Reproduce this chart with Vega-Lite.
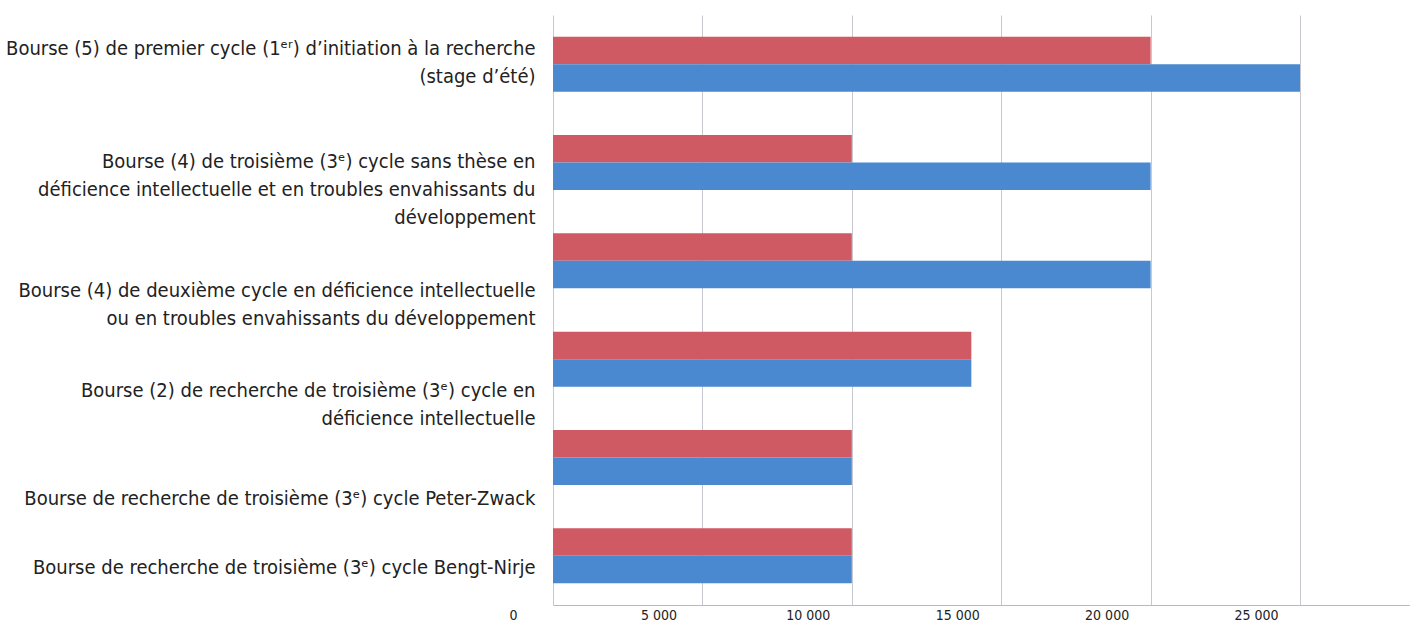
{
  "$schema": "https://vega.github.io/schema/vega-lite/v6.json",
  "autosize": "none",
  "padding": {"left": 553, "top": 15, "right": 0, "bottom": 20},
  "width": 857,
  "height": 590,
  "background": "white",
  "data": {
    "values": [
      {"bourse": "Bourse (5) de premier cycle (1ᵉʳ) d’initiation à la recherche|(stage d’été)", "serie": "Série 1", "montant": 20000},
      {"bourse": "Bourse (5) de premier cycle (1ᵉʳ) d’initiation à la recherche|(stage d’été)", "serie": "Série 2", "montant": 25000},
      {"bourse": "Bourse (4) de troisième (3ᵉ) cycle sans thèse en|déficience intellectuelle et en troubles envahissants du|développement", "serie": "Série 1", "montant": 10000},
      {"bourse": "Bourse (4) de troisième (3ᵉ) cycle sans thèse en|déficience intellectuelle et en troubles envahissants du|développement", "serie": "Série 2", "montant": 20000},
      {"bourse": "Bourse (4) de deuxième cycle en déficience intellectuelle|ou en troubles envahissants du développement", "serie": "Série 1", "montant": 10000},
      {"bourse": "Bourse (4) de deuxième cycle en déficience intellectuelle|ou en troubles envahissants du développement", "serie": "Série 2", "montant": 20000},
      {"bourse": "Bourse (2) de recherche de troisième (3ᵉ) cycle en|déficience intellectuelle", "serie": "Série 1", "montant": 14000},
      {"bourse": "Bourse (2) de recherche de troisième (3ᵉ) cycle en|déficience intellectuelle", "serie": "Série 2", "montant": 14000},
      {"bourse": "Bourse de recherche de troisième (3ᵉ) cycle Peter-Zwack", "serie": "Série 1", "montant": 10000},
      {"bourse": "Bourse de recherche de troisième (3ᵉ) cycle Peter-Zwack", "serie": "Série 2", "montant": 10000},
      {"bourse": "Bourse de recherche de troisième (3ᵉ) cycle Bengt-Nirje", "serie": "Série 1", "montant": 10000},
      {"bourse": "Bourse de recherche de troisième (3ᵉ) cycle Bengt-Nirje", "serie": "Série 2", "montant": 10000}
    ]
  },
  "config": {
    "view": {"stroke": null},
    "font": "DejaVu Sans Condensed"
  },
  "mark": {"type": "bar"},
  "encoding": {
    "y": {
      "field": "bourse",
      "type": "nominal",
      "sort": null,
      "title": null,
      "scale": {"paddingInner": 0.44, "paddingOuter": 0.22},
      "axis": {
        "domain": false,
        "ticks": false,
        "labelPadding": 18,
        "labelFont": "DejaVu Sans Condensed",
        "labelFontSize": 20,
        "labelColor": "#222222",
        "labelLimit": 0,
        "labelLineHeight": 28,
        "labelExpr": "split(datum.value, '|')",
        "labelOffset": {
          "condition": [
            {"test": "indexof(datum.value, '(5)') >= 0", "value": -15},
            {"test": "indexof(datum.value, '(4) de troisième') >= 0", "value": -1},
            {"test": "indexof(datum.value, '(4) de deuxième') >= 0", "value": 30},
            {"test": "indexof(datum.value, '(2)') >= 0", "value": 32},
            {"test": "indexof(datum.value, 'Peter') >= 0", "value": 41},
            {"test": "indexof(datum.value, 'Bengt') >= 0", "value": 12}
          ],
          "value": 0
        }
      }
    },
    "yOffset": {
      "field": "serie",
      "type": "nominal",
      "sort": ["Série 1", "Série 2"],
      "scale": {"paddingInner": 0, "paddingOuter": 0}
    },
    "x": {
      "field": "montant",
      "type": "quantitative",
      "title": null,
      "scale": {"domain": [0, 28680], "nice": false},
      "axis": {
        "values": [0, 5000, 10000, 15000, 20000, 25000],
        "labelExpr": "datum.value == 0 ? '0' : (datum.value / 1000) + ' 000'",
        "labelFont": "DejaVu Sans Condensed",
        "labelFontSize": 14,
        "labelColor": "#222222",
        "labelOffset": -44,
        "labelPadding": 3,
        "ticks": false,
        "domainColor": "#b8b8c0",
        "domainWidth": 1,
        "grid": true,
        "gridColor": "#c8c8d0",
        "gridWidth": 1
      }
    },
    "color": {
      "field": "serie",
      "type": "nominal",
      "legend": null,
      "scale": {"domain": ["Série 1", "Série 2"], "range": ["#cf5a64", "#4a88d0"]}
    }
  }
}
